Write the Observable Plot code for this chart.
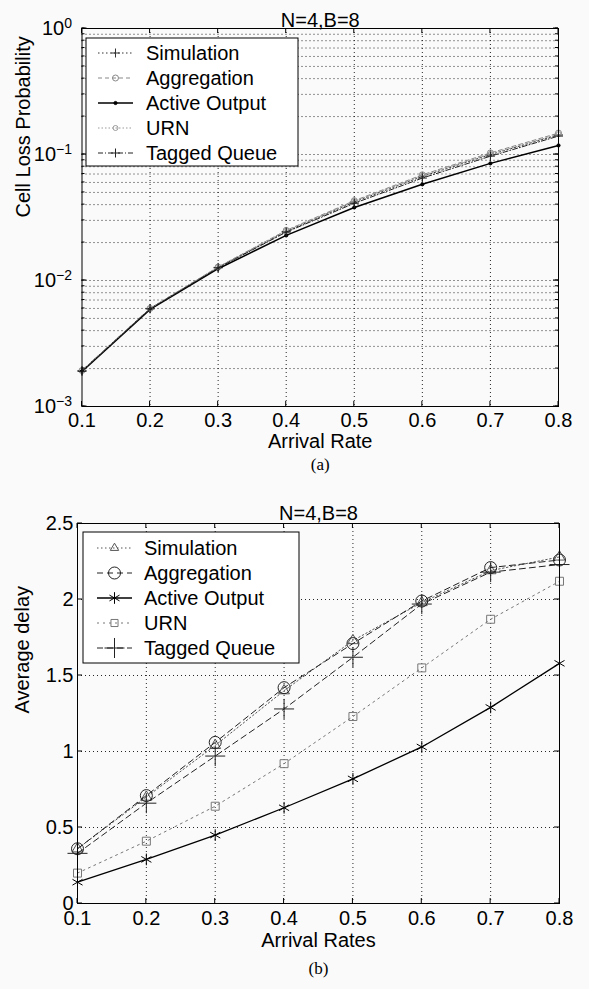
<!DOCTYPE html>
<html><head><meta charset="utf-8">
<script src="https://cdn.jsdelivr.net/npm/d3@7"></script>
<script src="https://cdn.jsdelivr.net/npm/@observablehq/plot@0.6"></script>
<style>
html,body{margin:0;padding:0;background:#fafafa;}
#wrap{width:589px;height:989px;overflow:hidden;}
svg{display:block;}
</style></head><body><div id="wrap"></div>
<script>
// ---------- data ----------
const rates = [0.1, 0.2, 0.3, 0.4, 0.5, 0.6, 0.7, 0.8];
const rateTickLabels = ["0.1","0.2","0.3","0.4","0.5","0.6","0.7","0.8"];
const seriesNames = ["Simulation","Aggregation","Active Output","URN","Tagged Queue"];

// (a) Cell loss probability
const lossSimulation   = [1.93e-3, 6.0e-3, 1.27e-2, 2.45e-2, 4.2e-2, 6.7e-2, 0.100, 0.143];
const lossAggregation  = [1.93e-3, 6.0e-3, 1.28e-2, 2.50e-2, 4.3e-2, 6.9e-2, 0.103, 0.148];
const lossActiveOutput = [1.90e-3, 5.9e-3, 1.24e-2, 2.28e-2, 3.8e-2, 5.8e-2, 0.085, 0.118];
const lossURN          = [1.93e-3, 6.0e-3, 1.28e-2, 2.48e-2, 4.25e-2, 6.8e-2, 0.101, 0.145];
const lossTaggedQueue  = [1.90e-3, 5.95e-3, 1.26e-2, 2.42e-2, 4.1e-2, 6.5e-2, 0.097, 0.140];
const lossTicks = [1e-3, 1e-2, 1e-1, 1];
const lossTickExponents = ["-3","-2","-1","0"];

// (b) Average delay
const delaySimulation   = [0.36, 0.70, 1.04, 1.40, 1.73, 1.98, 2.19, 2.28];
const delayAggregation  = [0.36, 0.71, 1.06, 1.42, 1.71, 1.99, 2.21, 2.26];
const delayActiveOutput = [0.14, 0.29, 0.45, 0.63, 0.82, 1.03, 1.29, 1.58];
const delayURN          = [0.20, 0.41, 0.64, 0.92, 1.23, 1.55, 1.87, 2.12];
const delayTaggedQueue  = [0.33, 0.66, 0.97, 1.28, 1.62, 1.97, 2.18, 2.23];
const delayTicks = [0, 0.5, 1, 1.5, 2, 2.5];
const delayTickLabels = ["0","0.5","1","1.5","2","2.5"];

const title = "N=4,B=8";

// ---------- styles ----------
const FONT = '"Liberation Sans", Arial, Helvetica, sans-serif';
const lossStyles = [
  {stroke:"#333", dash:"1.5,2.5", symbol:"plus",   r:3,   width:1},
  {stroke:"#888", dash:"4,3",     symbol:"circle", r:3,   width:1},
  {stroke:"#000", dash:null,      symbol:"circle", r:1.6, width:1.5, fill:"#000"},
  {stroke:"#999", dash:"1.5,2",   symbol:"circle", r:2.5, width:1},
  {stroke:"#222", dash:"5,2,1,2", symbol:"plus",   r:3,   width:1}
];
const delayStyles = [
  {stroke:"#555", dash:"1.5,2.5", symbol:"triangle", r:4,   width:1},
  {stroke:"#222", dash:"6,4",     symbol:"circle",   r:6,   width:1},
  {stroke:"#000", dash:null,      symbol:"asterisk", r:5.5, width:1.3},
  {stroke:"#777", dash:"2,4",     symbol:"square",   r:4.5, width:1},
  {stroke:"#222", dash:"6,4",     symbol:"plus",     r:6.5, width:1}
];

function tidy(arrays) {
  const out = [];
  arrays.forEach((arr, si) => arr.forEach((v, i) => out.push({series: seriesNames[si], x: rates[i], y: v})));
  return out;
}
const lossData = tidy([lossSimulation, lossAggregation, lossActiveOutput, lossURN, lossTaggedQueue]);
const delayData = tidy([delaySimulation, delayAggregation, delayActiveOutput, delayURN, delayTaggedQueue]);

function seriesMarks(data, styles) {
  const marks = [];
  seriesNames.forEach((name, i) => {
    const s = styles[i];
    const d = data.filter(p => p.series === name);
    marks.push(Plot.line(d, {x:"x", y:"y", stroke:s.stroke, strokeWidth:s.width, strokeDasharray:s.dash || undefined}));
    marks.push(Plot.dot(d, {x:"x", y:"y", symbol:s.symbol, r:s.r, stroke:s.stroke, fill:s.fill || "none", strokeWidth:1}));
  });
  return marks;
}

const gridStyle = {stroke:"#000", strokeOpacity:0.85, strokeDasharray:"1,3", strokeWidth:1};

function minorLogTicks() {
  const t = [];
  for (let e = -3; e < 0; e++) for (let k = 1; k <= 9; k++) t.push(k * Math.pow(10, e));
  t.push(1);
  return t;
}
const lossMinor = minorLogTicks();

// ---------- chart (a) ----------
const c1 = Plot.plot({
  width: 589, height: 480,
  marginLeft: 81.5, marginRight: 31, marginTop: 28, marginBottom: 74,
  style: {fontFamily: FONT, fontSize: "20px", background: "transparent", color: "#000", overflow: "visible"},
  x: {domain: [0.1, 0.8], label: null},
  y: {type: "log", domain: [1e-3, 1], label: null},
  marks: [
    Plot.gridY(lossMinor.filter(v => v > 1e-3 && v < 1), gridStyle),
    Plot.gridX(rates.slice(1, -1), gridStyle),
    ...seriesMarks(lossData, lossStyles),
    Plot.frame({stroke: "#000", strokeWidth: 1}),
    Plot.axisX(rates, {tickSize: 0, tickPadding: 6, tickFormat: (d) => rateTickLabels[rates.indexOf(d)], label: null, fontSize: 20}),
    Plot.axisY(lossTicks, {tickSize: 0, tickPadding: 10, tickFormat: (d) => "10^" + lossTickExponents[lossTicks.indexOf(d)], label: null, fontSize: 20}),
    Plot.text([title], {text: d => d, frameAnchor: "top", dy: -16, fontSize: 20}),
    Plot.text(["Arrival Rate"], {text: d => d, frameAnchor: "bottom", dy: 41, fontSize: 20}),
    Plot.text(["Cell Loss Probability"], {text: d => d, frameAnchor: "left", dx: -58.5, rotate: -90, fontSize: 20}),
    Plot.text(["(a)"], {text: d => d, frameAnchor: "bottom", dy: 63, fontSize: 17, fontFamily: '"Liberation Serif", "Times New Roman", serif'})
  ]
});

// ---------- chart (b) ----------
const c2 = Plot.plot({
  width: 589, height: 509,
  marginLeft: 77, marginRight: 30, marginTop: 43, marginBottom: 86,
  style: {fontFamily: FONT, fontSize: "20px", background: "transparent", color: "#000", overflow: "visible"},
  x: {domain: [0.1, 0.8], label: null},
  y: {domain: [0, 2.5], label: null},
  marks: [
    Plot.gridY(delayTicks.slice(1, -1), gridStyle),
    Plot.gridX(rates.slice(1, -1), gridStyle),
    ...seriesMarks(delayData, delayStyles),
    Plot.frame({stroke: "#000", strokeWidth: 1}),
    Plot.axisX(rates, {tickSize: 0, tickPadding: 7, tickFormat: (d) => rateTickLabels[rates.indexOf(d)], label: null, fontSize: 20}),
    Plot.axisY(delayTicks, {tickSize: 0, tickPadding: 4, tickFormat: (d) => delayTickLabels[delayTicks.indexOf(d)], label: null, fontSize: 20}),
    Plot.text([title], {text: d => d, frameAnchor: "top", dy: -18, fontSize: 20}),
    Plot.text(["Arrival Rates"], {text: d => d, frameAnchor: "bottom", dy: 43, fontSize: 20}),
    Plot.text(["Average delay"], {text: d => d, frameAnchor: "left", dx: -54.5, rotate: -90, fontSize: 20}),
    Plot.text(["(b)"], {text: d => d, frameAnchor: "bottom", dy: 70, fontSize: 17, fontFamily: '"Liberation Serif", "Times New Roman", serif'})
  ]
});

// ---------- post-processing: superscripts, inward ticks, legends ----------
d3.select(c1).selectAll('g[aria-label="y-axis tick label"] text').each(function() {
  const t = d3.select(this);
  const s = t.text();
  if (s.startsWith("10^")) {
    const exp = s.slice(3).replace("-", "\u2212");
    t.text(null);
    t.append("tspan").text("10");
    t.append("tspan").attr("dy", "-0.5em").attr("font-size", "14px").text(exp);
  }
});

function inwardTicks(svg, xs, ysMajor, ysMinor) {
  const sx = svg.scale("x"), sy = svg.scale("y");
  const [yb, yt] = sy.range, [xl, xr] = sx.range;
  const g = d3.select(svg).append("g").attr("stroke", "#000").attr("stroke-width", 1);
  xs.forEach(v => {
    const X = sx.apply(v);
    g.append("line").attr("x1", X).attr("x2", X).attr("y1", yb).attr("y2", yb - 5);
    g.append("line").attr("x1", X).attr("x2", X).attr("y1", yt).attr("y2", yt + 5);
  });
  const addY = (v, len) => {
    const Y = sy.apply(v);
    g.append("line").attr("x1", xl).attr("x2", xl + len).attr("y1", Y).attr("y2", Y);
    g.append("line").attr("x1", xr).attr("x2", xr - len).attr("y1", Y).attr("y2", Y);
  };
  ysMajor.forEach(v => addY(v, 5));
  (ysMinor || []).forEach(v => addY(v, 3));
}
inwardTicks(c1, rates, lossTicks, lossMinor);
inwardTicks(c2, rates, delayTicks, null);

function legend(svg, styles, box, rows) {
  const g = d3.select(svg).append("g");
  g.append("rect").attr("x", box.x).attr("y", box.y).attr("width", box.w).attr("height", box.h)
    .attr("fill", "#fff").attr("stroke", "#000").attr("stroke-width", 1);
  const symbols = {plus: d3.symbolPlus, circle: d3.symbolCircle, asterisk: d3.symbolAsterisk,
                   square: d3.symbolSquare2, triangle: d3.symbolTriangle2, times: d3.symbolTimes};
  seriesNames.forEach((name, i) => {
    const s = styles[i];
    const y = rows.y0 + i * rows.dy;
    g.append("line").attr("x1", rows.lx0).attr("x2", rows.lx1).attr("y1", y).attr("y2", y)
      .attr("stroke", s.stroke).attr("stroke-width", s.width).attr("stroke-dasharray", s.dash || null);
    g.append("path").attr("d", d3.symbol(symbols[s.symbol], s.r * s.r * Math.PI)())
      .attr("transform", `translate(${(rows.lx0 + rows.lx1) / 2},${y})`)
      .attr("fill", s.fill || "none").attr("stroke", s.stroke).attr("stroke-width", 1);
    g.append("text").attr("x", rows.tx).attr("y", y).attr("dy", "0.35em")
      .attr("text-anchor", "start")
      .attr("font-family", FONT).attr("font-size", 20).attr("fill", "#000").text(name);
  });
}
legend(c1, lossStyles, {x: 86, y: 38, w: 212, h: 128}, {y0: 53, dy: 25, lx0: 98, lx1: 133, tx: 146});
legend(c2, delayStyles, {x: 83, y: 52, w: 216, h: 131}, {y0: 68, dy: 25, lx0: 97, lx1: 132, tx: 144});

const wrap = document.getElementById("wrap");
wrap.appendChild(c1);
wrap.appendChild(c2);
</script>
</body></html>
